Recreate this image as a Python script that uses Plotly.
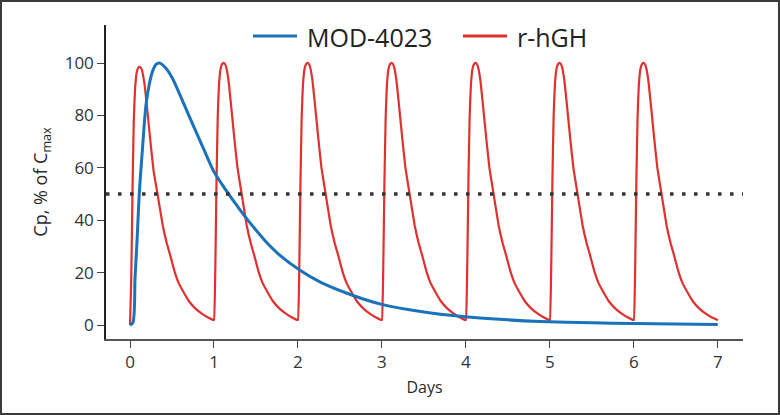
import plotly.graph_objects as go

# ---- data ----
MOD_T = [0.0, 0.035, 0.06, 0.085, 0.11, 0.15, 0.19, 0.23, 0.27, 0.31, 0.35, 0.42, 0.50,
         0.60, 0.70, 0.80, 0.90, 1.00, 1.10, 1.20, 1.31, 1.43, 1.60, 1.79, 2.02, 2.26,
         2.64, 3.01, 3.50, 3.99, 4.50, 4.88, 5.50, 6.00, 6.50, 7.00]
MOD_V = [0.0, 1.0, 18, 33, 50, 68, 84, 92, 97, 99.5, 100, 98.3, 94.5,
         87.5, 80, 72.8, 65.5, 58.5, 53.5, 48.8, 44, 39, 32.5, 26.5, 21, 16.5,
         11.5, 7.8, 5.0, 3.2, 2.0, 1.4, 0.9, 0.6, 0.4, 0.2]

RHGH_T = [
    0.00, 0.015, 0.03, 0.045, 0.06, 0.08, 0.10, 0.12, 0.14, 0.17, 0.20, 0.24, 0.28, 0.33, 0.39, 0.44, 0.48, 0.53, 0.58, 0.63, 0.70, 0.78, 0.86, 0.93, 0.99,
    1.00, 1.015, 1.03, 1.045, 1.06, 1.08, 1.10, 1.12, 1.14, 1.17, 1.20, 1.24, 1.28, 1.33, 1.39, 1.44, 1.48, 1.53, 1.58, 1.63, 1.70, 1.78, 1.86, 1.93, 1.99,
    2.00, 2.015, 2.03, 2.045, 2.06, 2.08, 2.10, 2.12, 2.14, 2.17, 2.20, 2.24, 2.28, 2.33, 2.39, 2.44, 2.48, 2.53, 2.58, 2.63, 2.70, 2.78, 2.86, 2.93, 2.99,
    3.00, 3.015, 3.03, 3.045, 3.06, 3.08, 3.10, 3.12, 3.14, 3.17, 3.20, 3.24, 3.28, 3.33, 3.39, 3.44, 3.48, 3.53, 3.58, 3.63, 3.70, 3.78, 3.86, 3.93, 3.99,
    4.00, 4.015, 4.03, 4.045, 4.06, 4.08, 4.10, 4.12, 4.14, 4.17, 4.20, 4.24, 4.28, 4.33, 4.39, 4.44, 4.48, 4.53, 4.58, 4.63, 4.70, 4.78, 4.86, 4.93, 4.99,
    5.00, 5.015, 5.03, 5.045, 5.06, 5.08, 5.10, 5.12, 5.14, 5.17, 5.20, 5.24, 5.28, 5.33, 5.39, 5.44, 5.48, 5.53, 5.58, 5.63, 5.70, 5.78, 5.86, 5.93, 5.99,
    6.00, 6.015, 6.03, 6.045, 6.06, 6.08, 6.10, 6.12, 6.14, 6.17, 6.20, 6.24, 6.28, 6.33, 6.39, 6.44, 6.48, 6.53, 6.58, 6.63, 6.70, 6.78, 6.86, 6.93, 7.00,
]
RHGH_V = [
    0, 18, 52, 78, 90, 96.5, 98.3, 98.5, 97.5, 92.5, 84, 71, 59, 49.5, 38, 31, 26.5, 20.5, 16, 13, 9.2, 6.3, 4.3, 2.9, 2.0,
    2, 20, 55, 80, 92, 98, 99.7, 100, 99, 94, 85, 72, 60, 50, 38, 31, 26.5, 20.5, 16, 13, 9.2, 6.3, 4.3, 2.9, 2.0,
    2, 20, 55, 80, 92, 98, 99.7, 100, 99, 94, 85, 72, 60, 50, 38, 31, 26.5, 20.5, 16, 13, 9.2, 6.3, 4.3, 2.9, 2.0,
    2, 20, 55, 80, 92, 98, 99.7, 100, 99, 94, 85, 72, 60, 50, 38, 31, 26.5, 20.5, 16, 13, 9.2, 6.3, 4.3, 2.9, 2.0,
    2, 20, 55, 80, 92, 98, 99.7, 100, 99, 94, 85, 72, 60, 50, 38, 31, 26.5, 20.5, 16, 13, 9.2, 6.3, 4.3, 2.9, 2.0,
    2, 20, 55, 80, 92, 98, 99.7, 100, 99, 94, 85, 72, 60, 50, 38, 31, 26.5, 20.5, 16, 13, 9.2, 6.3, 4.3, 2.9, 2.0,
    2, 20, 55, 80, 92, 98, 99.7, 100, 99, 94, 85, 72, 60, 50, 38, 31, 26.5, 20.5, 16, 13, 9.2, 6.3, 4.3, 2.9, 1.9,
]

THRESHOLD = 50
X_TICKS = [0, 1, 2, 3, 4, 5, 6, 7]
Y_TICKS = [0, 20, 40, 60, 80, 100]
SERIES_NAMES = ["MOD-4023", "r-hGH"]

FONT = "Open Sans, Noto Sans, sans-serif"
BLUE = "#1a72b8"
RED = "#e0302f"
COLORS = [BLUE, RED]

fig = go.Figure()
fig.add_trace(go.Scatter(x=RHGH_T, y=RHGH_V, mode="lines", name=SERIES_NAMES[1],
                         line=dict(color=RED, width=2.2, shape="spline", smoothing=0.3),
                         showlegend=False))
fig.add_trace(go.Scatter(x=MOD_T, y=MOD_V, mode="lines", name=SERIES_NAMES[0],
                         line=dict(color=BLUE, width=3, shape="spline", smoothing=0.8),
                         showlegend=False))

fig.add_hline(y=THRESHOLD, line=dict(color="#333333", width=3.5, dash="3.5px,8.5px"),
              layer="above")

W, H = 780, 415
ML, MR, MT, MB = 106, 37, 25, 76
pw, ph = W - ML - MR, H - MT - MB


def px(x):
    return (x - ML) / pw


def py(y):
    return (H - MB - y) / ph


# frame around the whole figure
fig.add_shape(type="rect", xref="paper", yref="paper",
              x0=px(1), x1=px(W - 1), y0=py(H - 1), y1=py(1),
              line=dict(color="#3a3a3a", width=2), fillcolor="rgba(0,0,0,0)", layer="below")

# custom legend (key lines + labels)
LEG_KEYS = [(253, 297), (463, 507)]
LEG_Y = 36
for name, col, (a, b) in zip(SERIES_NAMES, COLORS, LEG_KEYS):
    fig.add_shape(type="line", xref="paper", yref="paper",
                  x0=px(a), x1=px(b), y0=py(LEG_Y), y1=py(LEG_Y),
                  line=dict(color=col, width=3))
    fig.add_annotation(xref="paper", yref="paper", x=px(b + 8), y=py(LEG_Y + 1),
                       text=name, showarrow=False, xanchor="left", yanchor="middle",
                       font=dict(size=25, color="#222222"))

fig.update_layout(
    width=W, height=H,
    margin=dict(l=ML, r=MR, t=MT, b=MB),
    paper_bgcolor="white", plot_bgcolor="white",
    font=dict(family=FONT, color="#2a2a2a", size=17),
    showlegend=False,
)
fig.update_xaxes(range=[-0.286, 7.30], tickvals=X_TICKS, ticks="outside", ticklen=7,
                 tickcolor="#444", showline=True, linecolor="#555", linewidth=1.5,
                 showgrid=False, zeroline=False, tickfont=dict(size=17, color="#333"),
                 title=dict(text="Days", font=dict(size=16), standoff=10))
fig.update_yaxes(range=[-5.3, 114.5], tickvals=Y_TICKS, ticks="outside", ticklen=7,
                 tickcolor="#444", showline=True, linecolor="#222", linewidth=1.5,
                 showgrid=False, zeroline=False, tickfont=dict(size=17, color="#333"),
                 title=dict(text="Cp, % of C<sub>max</sub>", font=dict(size=18), standoff=12))

fig.write_html("out.html", config={"displayModeBar": False},
               post_script="document.body.style.margin='0';")
